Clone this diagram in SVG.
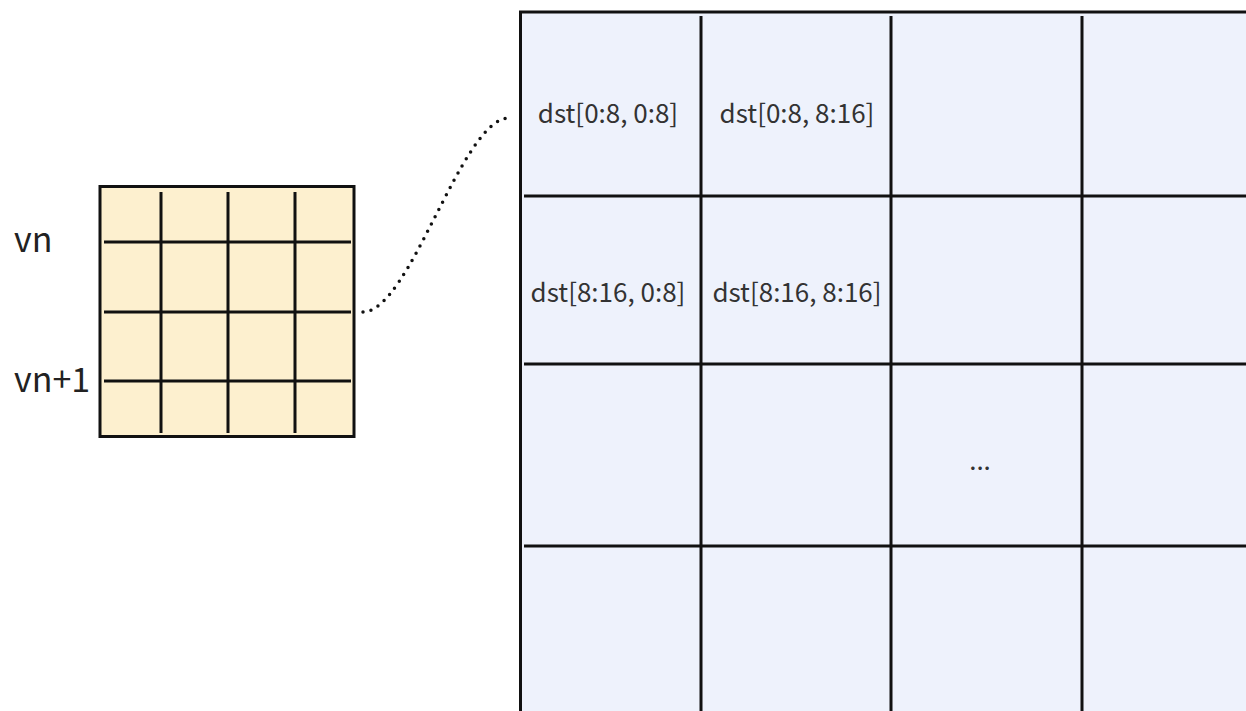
<svg xmlns="http://www.w3.org/2000/svg" width="1246" height="711" viewBox="0 0 1246 711">
  <style>
    .frame { stroke: #111; stroke-width: 3; }
    .rule { stroke: #111; stroke-width: 3; fill: none; }
    .lbl { font-family: "Noto Sans CJK SC", "Noto Sans", sans-serif; fill: #333; }
    .cell { font-size: 26px; text-anchor: middle; }
    .row { font-size: 34px; fill: #222; }
    .link { fill: none; stroke: #111; stroke-width: 3.5; stroke-linecap: round; stroke-dasharray: 0 8.2; }
  </style>
  <rect width="1246" height="711" fill="#ffffff"/>

  <!-- register tile: 4x4 blocks -->
  <g id="tile">
    <rect class="frame" x="100" y="186.5" width="254" height="250" fill="#fdf0cf"/>
    <path class="rule" d="M161 192V433M228 192V433M295 192V433M104 242H351M104 312H351M104 381H351"/>
  </g>

  <g id="row-labels">
    <text class="lbl row" x="14" y="252">vn</text>
    <text class="lbl row" x="14" y="392">vn+1</text>
  </g>

  <!-- destination matrix split into 8x8 blocks -->
  <g id="dst">
    <rect class="frame" x="520.5" y="12" width="800" height="760" fill="#eef2fc"/>
    <path class="rule" d="M701 16V711M891 16V711M1082 16V711M524 196H1246M524 364H1246M524 546H1246"/>
    <text class="lbl cell" x="608" y="123">dst[0:8, 0:8]</text>
    <text class="lbl cell" x="797" y="123">dst[0:8, 8:16]</text>
    <text class="lbl cell" x="608" y="302">dst[8:16, 0:8]</text>
    <text class="lbl cell" x="797" y="302">dst[8:16, 8:16]</text>
    <text class="lbl cell" x="980" y="470">...</text>
  </g>

  <g id="connectors">
    <path class="link" d="M363 312C410 312 462 118 509 118"/>
  </g>
</svg>
